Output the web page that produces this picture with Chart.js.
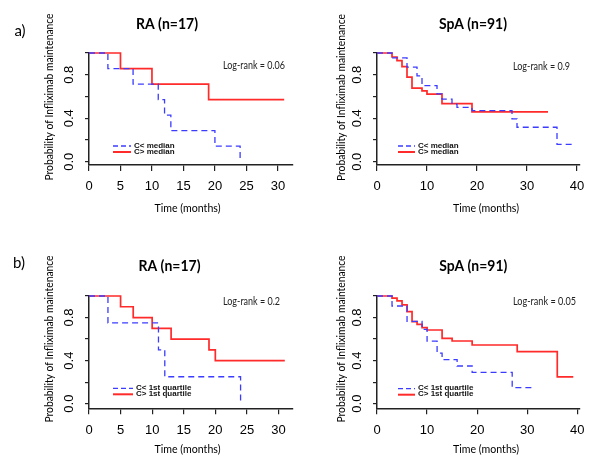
<!DOCTYPE html>
<html>
<head>
<meta charset="utf-8">
<script src="https://cdn.jsdelivr.net/npm/chart.js@4.4.1/dist/chart.umd.min.js"></script>
<style>
    html, body { margin: 0; padding: 0; background: #fff; }
    #wrap { position: relative; width: 600px; height: 465px; overflow: hidden; }
    canvas { position: absolute; }
</style>
</head>
<body>
<div id="wrap">
    <canvas id="chart-ra-median" width="300" height="232" style="left:0;top:0"></canvas>
    <canvas id="chart-spa-median" width="300" height="232" style="left:300px;top:0"></canvas>
    <canvas id="chart-ra-quartile" width="300" height="233" style="left:0;top:232px"></canvas>
    <canvas id="chart-spa-quartile" width="300" height="233" style="left:300px;top:232px"></canvas>
</div>
<script>
// Kaplan-Meier steps: time (months) and survival after that time
const raMedianLowTime  = [0, 3, 7, 11, 12, 13, 20, 24];
const raMedianLowProb  = [1, 0.857, 0.714, 0.571, 0.429, 0.286, 0.143, 0];
const raMedianHighTime = [0, 5, 10, 19, 31];
const raMedianHighProb = [1, 0.857, 0.714, 0.571, 0.571];

const spaMedianLowTime  = [0, 3, 6, 8, 9, 12, 13, 15, 16, 19, 27, 28, 36, 39.2];
const spaMedianLowProb  = [1, 0.955, 0.87, 0.79, 0.70, 0.625, 0.575, 0.53, 0.50, 0.47, 0.394, 0.317, 0.16, 0.16];
const spaMedianHighTime = [0, 3, 4, 5, 6, 7, 9, 10, 13, 19, 34.2];
const spaMedianHighProb = [1, 0.963, 0.929, 0.874, 0.779, 0.677, 0.652, 0.622, 0.535, 0.458, 0.458];

const raQuartileLowTime  = [0, 3, 11, 12, 24];
const raQuartileLowProb  = [1, 0.75, 0.5, 0.25, 0];
const raQuartileHighTime = [0, 5, 7, 10, 13, 19, 20, 31];
const raQuartileHighProb = [1, 0.9, 0.8, 0.7, 0.6, 0.5, 0.4, 0.4];

const spaQuartileLowTime  = [0, 3, 6, 9, 10, 12, 13, 16, 19, 27, 31];
const spaQuartileLowProb  = [1, 0.907, 0.765, 0.69, 0.58, 0.47, 0.41, 0.35, 0.29, 0.149, 0.149];
const spaQuartileHighTime = [0, 3, 4, 5, 6, 7, 8, 9, 10, 13, 15, 19, 28, 36, 39.2];
const spaQuartileHighProb = [1, 0.98, 0.955, 0.918, 0.855, 0.762, 0.737, 0.706, 0.684, 0.607, 0.582, 0.545, 0.483, 0.248, 0.248];

// y tick labels (R drops every other one)
const yTickLabels = ['0.0', '', '0.4', '', '0.8', ''];

const BLUE = '#3c3cff';
const RED = '#ff2a2a';
const R_FONT = '"Liberation Sans", Arial, sans-serif';
const CAL_FONT = 'Lato, "Open Sans", sans-serif';

function toXY(times, probs) {
    return times.map((t, i) => ({ x: t, y: probs[i] }));
}

// draws the R-style text bits: panel letter, title, axis titles, rotated y labels, legend, log-rank
const panelText = {
    id: 'panelText',
    afterDraw(chart) {
        const p = chart.options.plugins.panelText;
        const ctx = chart.ctx;
        const area = chart.chartArea;
        const yScale = chart.scales.y;
        ctx.save();
        ctx.fillStyle = '#000';
        ctx.textBaseline = 'middle';

        if (p.letter) {
            ctx.font = '15px ' + CAL_FONT;
            ctx.textAlign = 'center';
            ctx.fillText(p.letter, p.letterX, p.letterY);
        }

        ctx.font = 'bold 15px ' + CAL_FONT;
        ctx.textAlign = 'center';
        ctx.fillText(p.title, p.titleX, p.titleY, p.titleW);

        ctx.font = '12px ' + CAL_FONT;
        ctx.fillText('Time (months)', area.left + p.xTitleDx, area.bottom + p.xTitleDy, 66);

        ctx.save();
        ctx.translate(area.left + p.yTitleDx, p.yTitleY);
        ctx.rotate(-Math.PI / 2);
        ctx.fillText('Probability of Infliximab maintenance', 0, 0, 167);
        ctx.restore();

        // y tick labels, rotated like R's default
        ctx.font = '13px ' + R_FONT;
        yScale.ticks.forEach((tick, i) => {
            const label = yTickLabels[i];
            if (!label) return;
            const py = yScale.getPixelForValue(tick.value);
            ctx.save();
            ctx.translate(area.left - 19.5, py);
            ctx.rotate(-Math.PI / 2);
            ctx.fillText(label, 0, 0);
            ctx.restore();
        });

        ctx.font = '11px ' + CAL_FONT;
        ctx.textAlign = 'left';
        ctx.fillStyle = '#222';
        ctx.fillText(p.logrank, area.left + p.logrankDx, area.top + p.logrankDy, p.logrankW);

        // legend
        const lx = area.left + p.legendDx;
        const ly = area.top + p.legendDy;
        const items = [
            { color: BLUE, dash: [5, 3], width: 1.3, text: p.lowLabel },
            { color: RED, dash: [], width: 2, text: p.highLabel }
        ];
        items.forEach((it, i) => {
            const yy = ly + i * 6;
            ctx.beginPath();
            ctx.setLineDash(it.dash);
            ctx.strokeStyle = it.color;
            ctx.lineWidth = it.width;
            ctx.moveTo(lx, yy);
            ctx.lineTo(lx + p.legendLen, yy);
            ctx.stroke();
            ctx.setLineDash([]);
            ctx.fillStyle = '#111';
            ctx.font = 'bold 8px ' + R_FONT;
            ctx.fillText(it.text, lx + p.legendLen + 3, yy - 0.5);
        });
        ctx.restore();
    }
};

function makeChart(id, p) {
    const canvas = document.getElementById(id);
    if (!canvas) {
        console.warn('canvas not found', id);
        return null;
    }
    return new Chart(canvas.getContext('2d'), {
        type: 'line',
        data: {
            datasets: [{
                label: p.lowLabel,
                data: toXY(p.lowTime, p.lowProb),
                borderColor: BLUE,
                borderWidth: 1.3,
                borderDash: [6, 4],
                stepped: true,
                pointRadius: 0,
                fill: false,
                clip: false
            }, {
                label: p.highLabel,
                data: toXY(p.highTime, p.highProb),
                borderColor: RED,
                borderWidth: 1.7,
                stepped: true,
                pointRadius: 0,
                fill: false,
                clip: false
            }]
        },
        options: {
            responsive: false,
            animation: false,
            events: [],
            layout: { padding: { top: p.areaTop, right: p.padRight, left: 0, bottom: 0 } },
            plugins: {
                legend: { display: false },
                tooltip: { enabled: false },
                panelText: p
            },
            scales: {
                x: {
                    type: 'linear',
                    min: 0,
                    max: p.xMax,
                    afterFit: (scale) => { scale.height = p.xHeight; },
                    ticks: {
                        stepSize: p.xStep,
                        includeBounds: false,
                        autoSkip: false,
                        maxRotation: 0,
                        padding: 8,
                        color: '#000',
                        font: { family: R_FONT, size: 13 }
                    },
                    grid: { drawOnChartArea: false, drawTicks: true, tickLength: 6, color: '#222', lineWidth: 1.2 },
                    border: { display: true, color: '#222', width: 1.5 }
                },
                y: {
                    type: 'linear',
                    min: p.yMin,
                    max: 1,
                    afterFit: (scale) => { scale.width = p.areaLeft; },
                    ticks: { stepSize: 0.2, includeBounds: false, display: false },
                    grid: { drawOnChartArea: false, drawTicks: true, tickLength: 4, color: '#222', lineWidth: 1.2 },
                    border: { display: true, color: '#222', width: 1.5 }
                }
            }
        },
        plugins: [panelText]
    });
}

makeChart('chart-ra-median', {
    lowTime: raMedianLowTime, lowProb: raMedianLowProb,
    highTime: raMedianHighTime, highProb: raMedianHighProb,
    lowLabel: 'C< median', highLabel: 'C> median',
    title: 'RA (n=17)', titleX: 167, titleY: 24, titleW: 62,
    letter: 'a)', letterX: 20, letterY: 31,
    logrank: 'Log-rank = 0.06', logrankDx: 134, logrankDy: 12.5, logrankW: 62,
    areaLeft: 89, areaTop: 53, padRight: 7, xHeight: 67,
    xMax: 32.4, xStep: 5, yMin: -0.03,
    xTitleDx: 98.5, xTitleDy: 43, yTitleDx: -40, yTitleY: 97,
    legendDx: 24, legendDy: 93, legendLen: 18
});

makeChart('chart-spa-median', {
    lowTime: spaMedianLowTime, lowProb: spaMedianLowProb,
    highTime: spaMedianHighTime, highProb: spaMedianHighProb,
    lowLabel: 'C< median', highLabel: 'C> median',
    title: 'SpA (n=91)', titleX: 173, titleY: 24, titleW: 68,
    letter: '', letterX: 0, letterY: 0,
    logrank: 'Log-rank = 0.9', logrankDx: 136, logrankDy: 13, logrankW: 57,
    areaLeft: 77, areaTop: 53, padRight: 20, xHeight: 67,
    xMax: 40.6, xStep: 10, yMin: -0.03,
    xTitleDx: 109, xTitleDy: 43, yTitleDx: -35.5, yTitleY: 97.5,
    legendDx: 21, legendDy: 93, legendLen: 17
});

makeChart('chart-ra-quartile', {
    lowTime: raQuartileLowTime, lowProb: raQuartileLowProb,
    highTime: raQuartileHighTime, highProb: raQuartileHighProb,
    lowLabel: 'C< 1st quartile', highLabel: 'C> 1st quartile',
    title: 'RA (n=17)', titleX: 169.5, titleY: 34, titleW: 62,
    letter: 'b)', letterX: 19, letterY: 31,
    logrank: 'Log-rank = 0.2', logrankDx: 134, logrankDy: 5, logrankW: 57,
    areaLeft: 89, areaTop: 64, padRight: 7, xHeight: 56.7,
    xMax: 32.3, xStep: 5, yMin: -0.043,
    xTitleDx: 98.5, xTitleDy: 41, yTitleDx: -40, yTitleY: 107,
    legendDx: 24, legendDy: 92.3, legendLen: 20
});

makeChart('chart-spa-quartile', {
    lowTime: spaQuartileLowTime, lowProb: spaQuartileLowProb,
    highTime: spaQuartileHighTime, highProb: spaQuartileHighProb,
    lowLabel: 'C< 1st quartile', highLabel: 'C> 1st quartile',
    title: 'SpA (n=91)', titleX: 173.3, titleY: 34, titleW: 68,
    letter: '', letterX: 0, letterY: 0,
    logrank: 'Log-rank = 0.05', logrankDx: 136, logrankDy: 5, logrankW: 63,
    areaLeft: 77, areaTop: 64, padRight: 20.7, xHeight: 56.7,
    xMax: 40.4, xStep: 10, yMin: -0.043,
    xTitleDx: 109, xTitleDy: 41, yTitleDx: -35.5, yTitleY: 107,
    legendDx: 21, legendDy: 92.7, legendLen: 17
});
</script>
</body>
</html>
